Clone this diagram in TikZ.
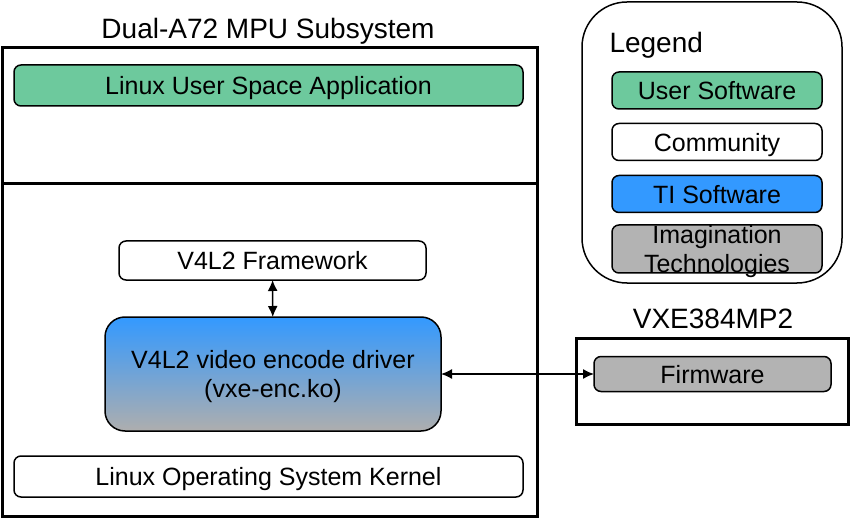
\documentclass[tikz,border=0pt]{standalone}
\usepackage{fontspec}
\setmainfont{Liberation Sans}
\usetikzlibrary{arrows.meta}

\definecolor{usergreen}{HTML}{6DC99D}
\definecolor{tiblue}{HTML}{3399FF}
\definecolor{imggray}{HTML}{B3B3B3}
\definecolor{drvgray}{HTML}{AEAEAE}

\tikzset{
    swbox/.style={draw, line width=1.5pt, rounded corners=7pt, inner sep=0pt, outer sep=0pt,
        font=\fontsize{25}{29}\selectfont, align=center, text depth=0pt},
    subsys/.style={draw, line width=3pt, inner sep=0pt, outer sep=0pt},
    heading/.style={font=\fontsize{28}{32}\selectfont, text depth=0pt}
}

\begin{document}
\begin{tikzpicture}[x=1pt, y=-1pt, >={Latex[length=11pt,width=10pt]}]
    \useasboundingbox (0,0) rectangle (850,518);

    % MPU subsystem
    \node[subsys, minimum width=535pt, minimum height=468pt] (mpu) at (269.5,282) {};
    \node[heading] (mputitle) at (268,28) {Dual-A72 MPU Subsystem};
    \coordinate (divl) at (2,184);
    \coordinate (divr) at (537,184);
    \draw[line width=3pt] (divl) -- (divr);

    % user space
    \node[swbox, fill=usergreen, minimum width=509pt, minimum height=41pt] (app) at (268.5,85.5) {Linux User Space Application};

    % kernel space
    \node[swbox, fill=white, minimum width=307pt, minimum height=39pt] (v4l2) at (272.5,260.5) {V4L2 Framework};
    \node[swbox, rounded corners=20pt, top color=tiblue, bottom color=drvgray,
        minimum width=336pt, minimum height=114pt] (drv) at (273,374)
        {V4L2 video encode driver\\(vxe-enc.ko)};
    \node[swbox, fill=white, minimum width=509pt, minimum height=41pt] (kernel) at (268.5,476.5) {Linux Operating System Kernel};

    % legend
    \node[draw, line width=1.5pt, rounded corners=45pt, minimum width=260pt, minimum height=281pt] (legend) at (712,142.5) {};
    \node[heading, anchor=west] (legendtitle) at (606,42) {Legend};
    \foreach \name/\y/\col/\txt in {user/90.5/usergreen/User Software,
                                    comm/142/white/Community,
                                    ti/194/tiblue/TI Software}
        \node[swbox, fill=\col, minimum width=210pt, minimum height=37pt] (\name) at (717,\y) {\txt};
    \node[swbox, fill=imggray, minimum width=210pt, minimum height=48pt] (img) at (717,249) {};
    \node[font=\fontsize{25}{29}\selectfont, align=center, text depth=0pt] (imgtext) at (img) {Imagination\\Technologies};

    % VXE384MP2
    \node[heading] (vxetitle) at (713,319) {VXE384MP2};
    \node[subsys, minimum width=272pt, minimum height=86pt] (vxe) at (712,381) {};
    \node[swbox, fill=imggray, minimum width=237pt, minimum height=35pt] (firm) at (712.5,374) {Firmware};

    % connections
    \draw[<->, line width=1.5pt] (v4l2) -- (drv);
    \draw[<->, line width=1.5pt] (drv) -- (firm);
\end{tikzpicture}
\end{document}
